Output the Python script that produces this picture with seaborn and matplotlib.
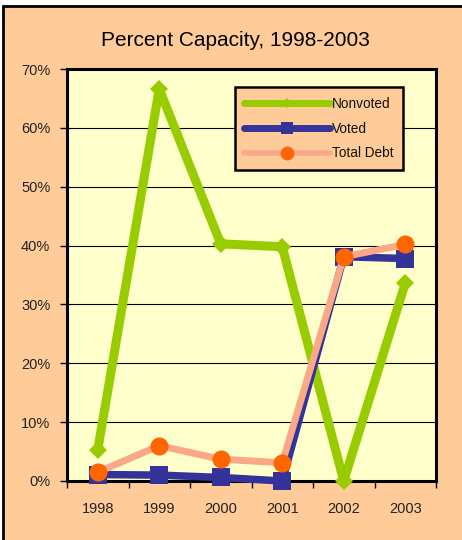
import matplotlib
matplotlib.use("Agg")
import matplotlib.pyplot as plt
import seaborn as sns
import pandas as pd
from matplotlib.patches import Rectangle
from matplotlib.lines import Line2D
from matplotlib.ticker import FixedLocator, FuncFormatter

years = ["1998", "1999", "2000", "2001", "2002", "2003"]
nonvoted = [5.3, 66.6, 40.3, 39.8, 0.0, 33.6]
voted = [1.1, 1.0, 0.6, 0.0, 38.1, 37.8]
total_debt = [1.5, 6.0, 3.7, 3.1, 38.1, 40.2]
series_names = ["Nonvoted", "Voted", "Total Debt"]
y_ticks = [0, 10, 20, 30, 40, 50, 60, 70]

PEACH = "#FFCC99"
PLOT_BG = "#FFFFCC"
GREEN = "#99CC00"
BLUE = "#333399"
ORANGE = "#FF6600"
SALMON = "#FBA889"

df = pd.DataFrame({
    "year": years * 3,
    "value": nonvoted + voted + total_debt,
    "series": [n for n in series_names for _ in years],
})

sns.set_theme(style="white")
plt.rcParams["font.family"] = ["Liberation Sans", "DejaVu Sans"]

fig = plt.figure(figsize=(4.62, 5.40), dpi=100, facecolor="white")
# peach chart panel with a black border along top and left
fig.patches.append(Rectangle((3 / 462, -0.1), 1.2, 1 - 6 / 540 + 0.1,
                             transform=fig.transFigure, facecolor=PEACH,
                             edgecolor="black", lw=2.0, zorder=-5))

ax = fig.add_axes([67 / 462, 59 / 540, 369 / 462, 412 / 540])
ax.set_facecolor(PLOT_BG)

styles = {
    "Nonvoted": dict(color=GREEN, lw=6.5, marker="D", markersize=9.5,
                     markerfacecolor=GREEN, markeredgewidth=0, zorder=3),
    "Voted": dict(color=BLUE, lw=5.4, marker="s", markersize=13,
                  markerfacecolor=BLUE, markeredgewidth=0, zorder=4),
    "Total Debt": dict(color=SALMON, lw=5.0, marker="o", markersize=13,
                       markerfacecolor=ORANGE, markeredgewidth=0, zorder=5),
}
for name in series_names:
    sns.lineplot(data=df[df["series"] == name], x="year", y="value", ax=ax,
                 sort=False, clip_on=False, legend=False, **styles[name])

ax.set_xlim(-0.5, 5.5)
ax.set_ylim(0, 70)
ax.set_xlabel("")
ax.set_ylabel("")

ax.yaxis.set_major_locator(FixedLocator(y_ticks))
ax.yaxis.set_major_formatter(FuncFormatter(lambda v, _: f"{v:.0f}%"))
ax.yaxis.grid(True, color="black", lw=0.8)
ax.set_axisbelow(True)

ax.set_xticks(range(len(years)))
ax.set_xticklabels(years)
ax.xaxis.set_minor_locator(FixedLocator([i - 0.5 for i in range(len(years) + 1)]))
ax.tick_params(axis="x", which="major", length=0, pad=15, labelsize=10.5, labelcolor="#222222")
ax.tick_params(axis="x", which="minor", length=5, width=1, color="black", direction="out", bottom=True)
ax.tick_params(axis="y", which="major", length=5, width=1, color="black", direction="out",
               left=True, pad=7, labelsize=10.5, labelcolor="#222222")

for sp in ax.spines.values():
    sp.set_color("black")
    sp.set_linewidth(2.2)

handles = [
    Line2D([], [], color=GREEN, lw=5, marker="D", markersize=5, markeredgewidth=0),
    Line2D([], [], color=BLUE, lw=5, marker="s", markersize=9, markeredgewidth=0),
    Line2D([], [], color=SALMON, lw=4, marker="o", markersize=10,
           markerfacecolor=ORANGE, markeredgewidth=0),
]
leg = ax.legend(handles, series_names, loc="upper left", bbox_to_anchor=(0.455, 0.956),
                fontsize=9.8, handlelength=6.3, handletextpad=0.15, labelspacing=0.8,
                borderpad=0.7, borderaxespad=0, frameon=True, fancybox=False,
                facecolor=PEACH, edgecolor="black", framealpha=1)
leg.get_frame().set_linewidth(1.8)
for t in leg.get_texts():
    t.set_color("#111111")

fig.text(0.51, 1 - 46 / 540, "Percent Capacity, 1998-2003", ha="center", va="baseline",
         fontsize=15, color="black")

fig.savefig("out.png", dpi=100, facecolor=fig.get_facecolor())
